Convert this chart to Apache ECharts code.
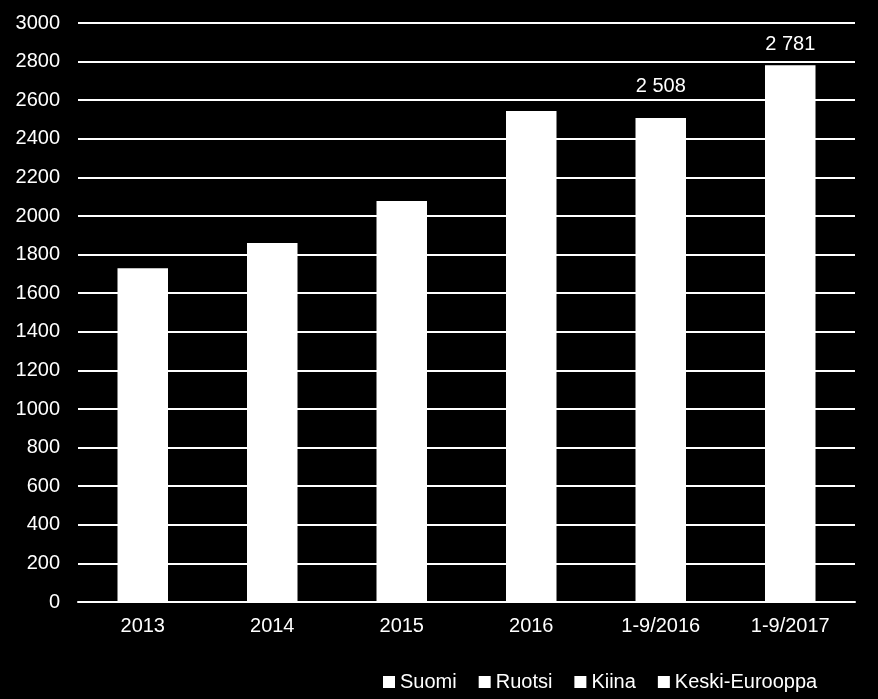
<!DOCTYPE html>
<html>
<head>
<meta charset="utf-8">
<script src="https://cdn.jsdelivr.net/npm/echarts@6/dist/echarts.min.js"></script>
<style>
html,body{margin:0;padding:0;background:#000;}
#c{width:878px;height:699px;}
</style>
</head>
<body>
<div id="c"></div>
<script>
var categories = ['2013', '2014', '2015', '2016', '1-9/2016', '1-9/2017'];
var totals = [1729, 1860, 2078, 2544, 2508, 2781];
var seriesNames = ['Suomi', 'Ruotsi', 'Kiina', 'Keski-Eurooppa'];
var labelledTotals = [null, null, null, null, '2 508', '2 781'];
var labelDistances = [0, 0, 0, 0, 21, 11];

var font = 'Liberation Sans, Arial, sans-serif';
var chart = echarts.init(document.getElementById('c'), null, {renderer: 'canvas'});

var totalData = totals.map(function (v, i) {
  var item = {value: v};
  if (labelledTotals[i]) {
    item.label = {show: true, position: 'top', distance: labelDistances[i], formatter: labelledTotals[i]};
  }
  return item;
});

var series = seriesNames.map(function (name, idx) {
  return {
    name: name,
    type: 'bar',
    stack: 'total',
    barWidth: '39%',
    itemStyle: {color: '#ffffff'},
    label: {show: false, color: '#ffffff', fontFamily: font, fontSize: 20},
    data: idx === 0 ? totalData : categories.map(function () { return 0; })
  };
});

chart.setOption({
  backgroundColor: '#000000',
  animation: false,
  grid: {left: 78, right: 23, top: 23, bottom: 97},
  legend: {
    data: seriesNames,
    left: 383,
    top: 672,
    padding: 0,
    icon: 'rect',
    itemWidth: 12,
    itemHeight: 12,
    itemGap: 22,
    textStyle: {color: '#ffffff', fontFamily: font, fontSize: 20}
  },
  xAxis: {
    type: 'category',
    data: categories,
    axisLine: {show: true, lineStyle: {color: '#ffffff', width: 2}},
    axisTick: {show: false},
    axisLabel: {color: '#ffffff', fontFamily: font, fontSize: 20, margin: 14}
  },
  yAxis: {
    type: 'value',
    min: 0,
    max: 3000,
    interval: 200,
    axisLine: {show: false},
    axisTick: {show: false},
    axisLabel: {color: '#ffffff', fontFamily: font, fontSize: 20, margin: 18,
      formatter: function (v) { return String(v); }},
    splitLine: {lineStyle: {color: '#ffffff', width: 2}}
  },
  series: series
});
</script>
</body>
</html>
